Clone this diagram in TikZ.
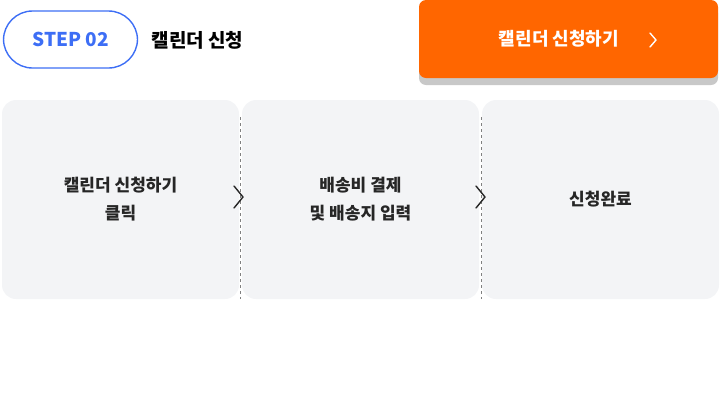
\documentclass[tikz,border=0pt]{standalone}
\usepackage{fontspec}
\setmainfont{Noto Sans CJK KR}
\usetikzlibrary{positioning}
\definecolor{stepblue}{HTML}{3D6EF5}
\definecolor{btnorange}{HTML}{FF6600}
\definecolor{boxgray}{HTML}{F3F4F6}
\definecolor{shadowgray}{HTML}{C8C8C8}
\tikzset{
  stepbox/.style={fill=boxgray,rounded corners=14pt,minimum width=237pt,minimum height=199pt,inner sep=0pt},
  steptext/.style={font=\bfseries\fontsize{17}{28}\selectfont,align=center,text=black!85},
  chev/.style={line width=1.4pt,black!85,line cap=round,line join=round}
}
\begin{document}
\begin{tikzpicture}[x=1pt,y=-1pt]
\useasboundingbox (0,0) rectangle (720,400);
% header
\node[draw=stepblue,line width=1.4pt,rounded corners=29pt,minimum width=134pt,minimum height=57pt,
  text=stepblue,font=\bfseries\fontsize{19}{22}\selectfont] (pill) at (70.5,39.5) {STEP 02};
\node[font=\bfseries\fontsize{19}{22}\selectfont,anchor=west] (title) at (148,40) {캘린더 신청};
% button
\fill[shadowgray,rounded corners=7pt] (419,6) rectangle (718,85);
\node[fill=btnorange,rounded corners=7pt,minimum width=299pt,minimum height=78pt,inner sep=0pt,
  text=white,font=\bfseries\fontsize{18}{22}\selectfont] (btn) at (568.5,39) {캘린더 신청하기 \hspace{4pt}\phantom{>}};
\draw[white,line width=1.4pt,line cap=round,line join=round] (650,33) -- (656,40) -- (650,47);
% steps
\node[stepbox] (s1) at (120.5,199.5) {};
\node[stepbox] (s2) at (360.5,199.5) {};
\node[stepbox] (s3) at (600.5,199.5) {};
\draw[dashed,gray,thin] (240,117) -- (240,299);
\draw[dashed,gray,thin] (481,117) -- (481,299);
\node[steptext] at (s1) {캘린더 신청하기\\클릭};
\node[steptext] at (s2) {배송비 결제\\및 배송지 입력};
\node[steptext] at (s3) {신청완료};
\foreach \cx in {234,476}
  \draw[chev] (\cx,186) -- (\cx+9,197) -- (\cx,208);
\end{tikzpicture}
\end{document}
